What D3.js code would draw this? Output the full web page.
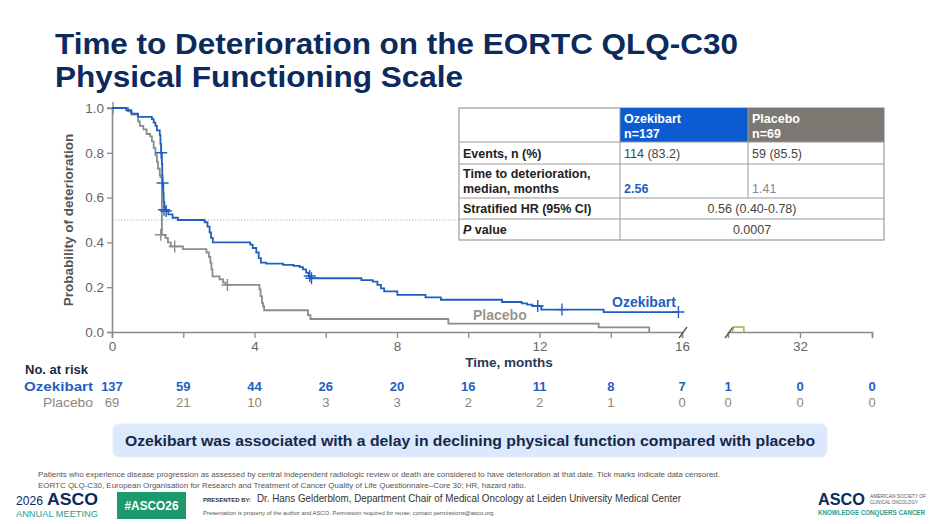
<!DOCTYPE html>
<html>
<head>
<meta charset="utf-8">
<script src="https://cdn.jsdelivr.net/npm/d3@7"></script>
<style>
  html, body { margin: 0; padding: 0; background: #fff; }
  svg { display: block; font-family: "Liberation Sans", Arial, sans-serif; }
</style>
</head>
<body>
<div id="chart"></div>
<script>
// Kaplan-Meier steps (time in months, probability after the step)
const ozeTimes = [0, 0.40, 0.54, 0.73, 1.12, 1.17, 1.22, 1.26, 1.34, 1.36, 1.38, 1.40, 1.41, 1.42, 1.44, 1.45, 1.47, 1.50, 1.58, 1.70, 1.85,
  2.60, 2.68, 2.74, 2.78, 2.83, 3.88, 3.95, 4.05, 4.12, 4.18, 4.33, 4.80, 5.10, 5.27, 5.36, 5.45, 5.52, 5.58,
  7.00, 7.32, 7.45, 7.55, 7.64, 8.01, 8.80, 9.23, 10.95, 11.50, 11.65, 11.80, 12.05, 13.80, 15.90];
const ozeProb = [1.0, 0.99, 0.975, 0.96, 0.95, 0.935, 0.92, 0.90, 0.88, 0.84, 0.80, 0.75, 0.70, 0.665, 0.62, 0.58, 0.555, 0.54, 0.525, 0.51, 0.50,
  0.49, 0.47, 0.445, 0.42, 0.40, 0.39, 0.375, 0.355, 0.33, 0.31, 0.305, 0.30, 0.295, 0.29, 0.28, 0.265, 0.25, 0.24,
  0.232, 0.225, 0.21, 0.195, 0.181, 0.166, 0.155, 0.144, 0.134, 0.128, 0.122, 0.116, 0.10, 0.089, 0.089];
const ozeCensorT = [1.38, 1.42, 1.46, 1.52, 5.55, 5.60, 11.95, 12.63, 15.90];
const ozeCensorP = [0.80, 0.665, 0.546, 0.54, 0.25, 0.24, 0.116, 0.10, 0.089];

const plaTimes = [0, 0.45, 0.55, 0.73, 0.78, 0.88, 0.97, 1.07, 1.12, 1.17, 1.22, 1.26, 1.29, 1.34, 1.36, 1.40,
  1.50, 1.57, 1.65, 1.99, 2.65, 2.72, 2.76, 2.79, 2.82, 3.02, 3.12, 3.19, 4.14, 4.17, 4.21, 4.24, 4.27,
  5.50, 5.57, 9.44, 13.66, 15.08];
const plaProb = [1.0, 0.985, 0.97, 0.94, 0.92, 0.905, 0.884, 0.873, 0.851, 0.821, 0.79, 0.76, 0.73, 0.70, 0.69, 0.434,
  0.42, 0.40, 0.382, 0.37, 0.355, 0.335, 0.31, 0.28, 0.248, 0.235, 0.22, 0.21, 0.19, 0.16, 0.13, 0.115, 0.097,
  0.075, 0.058, 0.037, 0.021, 0.0];
const plaCensorT = [0.03, 1.37, 1.76, 3.24];
const plaCensorP = [1.0, 0.434, 0.382, 0.21];

// little stray mark after the axis break
const tailTimes = [30.12, 30.16, 30.44, 30.44];
const tailProb = [0, 0.022, 0.022, -0.005];

const yTicks = [0, 0.2, 0.4, 0.6, 0.8, 1.0];
const xTicksMain = [0, 2, 4, 6, 8, 10, 12, 14, 16];
const xTicksTail = [32, 34];

const riskTimes = [0, 2, 4, 6, 8, 10, 12, 14, 16, 30, 32, 34];
const riskOze = [137, 59, 44, 26, 20, 16, 11, 8, 7, 1, 0, 0];
const riskPla = [69, 21, 10, 3, 3, 2, 2, 1, 0, 0, 0, 0];

const tableHead = ['Ozekibart', 'n=137', 'Placebo', 'n=69'];
const tableEvents = ['114 (83.2)', '59 (85.5)'];
const tableMedian = ['2.56', '1.41'];
const tableHR = '0.56 (0.40-0.78)';
const tableP = '0.0007';

const NAVY = '#0c2a5c', BLUE = '#1f5fbf', GREY = '#8c8c8c', AXIS = '#8a8a8a';

const W = 940, H = 524;
const svg = d3.select('#chart').append('svg').attr('width', W).attr('height', H);

// Title
const title = svg.append('text').attr('fill', NAVY).attr('font-size', 30).attr('font-weight', 'bold');
title.append('tspan').attr('x', 55).attr('y', 54).attr('textLength', 683).attr('lengthAdjust', 'spacingAndGlyphs')
  .text('Time to Deterioration on the EORTC QLQ-C30');
title.append('tspan').attr('x', 55).attr('y', 87).attr('textLength', 408).attr('lengthAdjust', 'spacingAndGlyphs')
  .text('Physical Functioning Scale');

// Scales (broken x axis)
const x = d3.scaleLinear().domain([0, 16]).range([112, 682]);
const x2 = d3.scaleLinear().domain([30, 34]).range([728, 872]);
const y = d3.scaleLinear().domain([0, 1]).range([332, 108]);

// median reference line
svg.append('line')
  .attr('x1', x(0)).attr('x2', x(16)).attr('y1', y(0.5)).attr('y2', y(0.5))
  .attr('stroke', '#aaa').attr('stroke-width', 0.8).attr('stroke-dasharray', '1.5,1.5');

// Axes
const gx = svg.append('g').attr('transform', `translate(0,${y(0)})`)
  .call(d3.axisBottom(x).tickValues(xTicksMain).tickFormat(d => d % 4 === 0 ? d : '').tickSizeOuter(0).tickSize(6).tickPadding(3));
const gx2 = svg.append('g').attr('transform', `translate(0,${y(0)})`)
  .call(d3.axisBottom(x2).tickValues(xTicksTail).tickFormat(d => d === 32 ? d : '').tickSizeOuter(0).tickSize(6).tickPadding(3));
const gy = svg.append('g').attr('transform', `translate(${x(0)},0)`)
  .call(d3.axisLeft(y).tickValues(yTicks).tickFormat(d3.format('.1f')).tickSizeOuter(0).tickSize(5).tickPadding(3));

[gx, gx2, gy].forEach(g => {
  g.select('.domain').attr('stroke', AXIS).attr('stroke-width', 1.6);
  g.selectAll('.tick line').attr('stroke', AXIS).attr('stroke-width', 1.3);
  g.selectAll('.tick text').attr('fill', '#666').attr('font-size', 13.5)
    .attr('font-family', '"Liberation Sans", Arial, sans-serif');
});

// axis break slashes
[x(16), x2(30)].forEach(bx => {
  svg.append('line')
    .attr('x1', bx - 3).attr('y1', y(0) + 6).attr('x2', bx + 5).attr('y2', y(0) - 5)
    .attr('stroke', '#555').attr('stroke-width', 1.3);
});

svg.append('text').attr('transform', `translate(73,${y(0.5)}) rotate(-90)`)
  .attr('text-anchor', 'middle').attr('fill', '#555').attr('font-size', 13.5).attr('font-weight', 'bold')
  .text('Probability of deterioration');
svg.append('text').attr('x', 509).attr('y', 367).attr('text-anchor', 'middle')
  .attr('fill', '#2a3a55').attr('font-size', 13.5).attr('font-weight', 'bold')
  .text('Time, months');

// KM curves
const step = d3.line().curve(d3.curveStepAfter);
function curve(times, probs, color) {
  svg.append('path')
    .attr('d', step(times.map((t, i) => [x(t), y(probs[i])])))
    .attr('fill', 'none').attr('stroke', color).attr('stroke-width', 1.8);
}
function censors(times, probs, color) {
  svg.append('g').selectAll('path').data(times).join('path')
    .attr('d', (t, i) => {
      const cx = x(t), cy = y(probs[i]);
      return `M${cx - 6},${cy}H${cx + 6}M${cx},${cy - 6}V${cy + 6}`;
    })
    .attr('stroke', color).attr('stroke-width', 1.4);
}
curve(plaTimes, plaProb, GREY);
censors(plaCensorT, plaCensorP, GREY);
curve(ozeTimes, ozeProb, BLUE);
censors(ozeCensorT, ozeCensorP, BLUE);

svg.append('path')
  .attr('d', d3.line()(tailTimes.map((t, i) => [x2(t), y(tailProb[i])])))
  .attr('fill', 'none').attr('stroke', '#8fb84a').attr('stroke-width', 1.5);

svg.append('text').attr('x', 612).attr('y', 307).attr('fill', BLUE)
  .attr('font-size', 14).attr('font-weight', 'bold').text('Ozekibart');
svg.append('text').attr('x', 473).attr('y', 320).attr('fill', '#9a968d')
  .attr('font-size', 14).attr('font-weight', 'bold').text('Placebo');

// Summary table
const tb = { x0: 459, c1: 620, c2: 748, x1: 884, rows: [108, 142, 164, 198, 219, 240] };
const tg = svg.append('g').attr('font-size', 12.5);
tg.append('rect').attr('x', tb.x0).attr('y', tb.rows[0]).attr('width', tb.x1 - tb.x0)
  .attr('height', tb.rows[5] - tb.rows[0]).attr('fill', '#fff').attr('stroke', '#9a9a9a').attr('stroke-width', 1.2);
tg.append('rect').attr('x', tb.c1).attr('y', tb.rows[0]).attr('width', tb.c2 - tb.c1)
  .attr('height', tb.rows[1] - tb.rows[0]).attr('fill', '#0d5bd0');
tg.append('rect').attr('x', tb.c2).attr('y', tb.rows[0]).attr('width', tb.x1 - tb.c2)
  .attr('height', tb.rows[1] - tb.rows[0]).attr('fill', '#7c7872');
tb.rows.slice(1, 5).forEach(r => {
  tg.append('line').attr('x1', tb.x0).attr('x2', tb.x1).attr('y1', r).attr('y2', r)
    .attr('stroke', '#9a9a9a').attr('stroke-width', 1);
});
tg.append('line').attr('x1', tb.c1).attr('x2', tb.c1).attr('y1', tb.rows[0]).attr('y2', tb.rows[5])
  .attr('stroke', '#9a9a9a');
tg.append('line').attr('x1', tb.c2).attr('x2', tb.c2).attr('y1', tb.rows[0]).attr('y2', tb.rows[3])
  .attr('stroke', '#9a9a9a');

function tcell(tx, ty, s, opts = {}) {
  return tg.append('text').attr('x', tx).attr('y', ty)
    .attr('fill', opts.fill || '#222').attr('font-weight', opts.bold ? 'bold' : 'normal')
    .attr('text-anchor', opts.anchor || 'start').text(s);
}
tcell(tb.c1 + 4, 123, tableHead[0], { fill: '#fff', bold: true });
tcell(tb.c1 + 4, 138, tableHead[1], { fill: '#fff', bold: true });
tcell(tb.c2 + 4, 123, tableHead[2], { fill: '#fff', bold: true });
tcell(tb.c2 + 4, 138, tableHead[3], { fill: '#fff', bold: true });
tcell(tb.x0 + 4, 158, 'Events, n (%)', { bold: true });
tcell(tb.c1 + 4, 158, tableEvents[0], { fill: '#444' });
tcell(tb.c2 + 4, 158, tableEvents[1], { fill: '#444' });
tcell(tb.x0 + 4, 178, 'Time to deterioration,', { bold: true });
tcell(tb.x0 + 4, 193, 'median, months', { bold: true });
tcell(tb.c1 + 4, 193, tableMedian[0], { fill: BLUE, bold: true });
tcell(tb.c2 + 4, 193, tableMedian[1], { fill: '#888' });
tcell(tb.x0 + 4, 213, 'Stratified HR (95% CI)', { bold: true });
tcell((tb.c1 + tb.x1) / 2, 213, tableHR, { fill: '#444', anchor: 'middle' });
const pl = tcell(tb.x0 + 4, 234, '', { bold: true });
pl.append('tspan').attr('font-style', 'italic').text('P');
pl.append('tspan').text(' value');
tcell((tb.c1 + tb.x1) / 2, 234, tableP, { fill: '#444', anchor: 'middle' });

// Number at risk (narrow look via textLength)
const rk = svg.append('g').attr('font-size', 13);
rk.append('text').attr('x', 25).attr('y', 374).attr('fill', '#1c2a44').attr('font-weight', 'bold')
  .attr('textLength', 63).attr('lengthAdjust', 'spacingAndGlyphs').text('No. at risk');
rk.append('text').attr('x', 24).attr('y', 391).attr('fill', BLUE).attr('font-weight', 'bold')
  .attr('textLength', 69).attr('lengthAdjust', 'spacingAndGlyphs').text('Ozekibart');
rk.append('text').attr('x', 43).attr('y', 407).attr('fill', '#8a877f')
  .attr('textLength', 50).attr('lengthAdjust', 'spacingAndGlyphs').text('Placebo');
const rx = t => t > 20 ? x2(t) : x(t);
rk.selectAll('text.ro').data(riskOze).join('text').attr('class', 'ro')
  .attr('x', (d, i) => rx(riskTimes[i])).attr('y', 391).attr('text-anchor', 'middle')
  .attr('fill', BLUE).attr('font-weight', 'bold').text(d => d);
rk.selectAll('text.rp').data(riskPla).join('text').attr('class', 'rp')
  .attr('x', (d, i) => rx(riskTimes[i])).attr('y', 407).attr('text-anchor', 'middle')
  .attr('fill', '#8a877f').text(d => d);

// Key message box
svg.append('rect').attr('x', 113).attr('y', 424).attr('width', 714).attr('height', 33).attr('rx', 6)
  .attr('fill', '#dce8fb').attr('stroke', '#e6eefc');
svg.append('text').attr('x', 470).attr('y', 446).attr('text-anchor', 'middle')
  .attr('fill', '#13294b').attr('font-size', 15).attr('font-weight', 'bold')
  .attr('textLength', 690).attr('lengthAdjust', 'spacingAndGlyphs')
  .text('Ozekibart was associated with a delay in declining physical function compared with placebo');

// Footnotes
const fn = svg.append('g').attr('font-size', 7.5).attr('fill', '#555');
fn.append('text').attr('x', 38).attr('y', 477).attr('textLength', 682).attr('lengthAdjust', 'spacingAndGlyphs')
  .text('Patients who experience disease progression as assessed by central independent radiologic review or death are considered to have deterioration at that date. Tick marks indicate data censored.');
fn.append('text').attr('x', 38).attr('y', 488).attr('textLength', 488).attr('lengthAdjust', 'spacingAndGlyphs')
  .text('EORTC QLQ-C30, European Organisation for Research and Treatment of Cancer Quality of Life Questionnaire\u2013Core 30; HR, hazard ratio.');

// Footer logos / presenter
svg.append('text').attr('x', 16).attr('y', 505).attr('fill', NAVY).attr('font-size', 13)
  .attr('textLength', 27).attr('lengthAdjust', 'spacingAndGlyphs').text('2026');
svg.append('text').attr('x', 47).attr('y', 505).attr('fill', NAVY).attr('font-size', 16).attr('font-weight', 'bold')
  .attr('textLength', 51).attr('lengthAdjust', 'spacingAndGlyphs').text('ASCO');
svg.append('text').attr('x', 16).attr('y', 517).attr('fill', '#2a9d8f').attr('font-size', 8.5)
  .attr('textLength', 82).attr('lengthAdjust', 'spacingAndGlyphs').text('ANNUAL MEETING');
svg.append('rect').attr('x', 117).attr('y', 492).attr('width', 69).attr('height', 27).attr('fill', '#1d9a6c');
svg.append('text').attr('x', 151.5).attr('y', 510).attr('text-anchor', 'middle').attr('fill', '#fff')
  .attr('font-size', 13).attr('font-weight', 'bold')
  .attr('textLength', 54).attr('lengthAdjust', 'spacingAndGlyphs').text('#ASCO26');
svg.append('text').attr('x', 203).attr('y', 502).attr('fill', '#333').attr('font-size', 5.5).attr('font-weight', 'bold')
  .attr('textLength', 48).attr('lengthAdjust', 'spacingAndGlyphs').text('PRESENTED BY:');
svg.append('text').attr('x', 257).attr('y', 502).attr('fill', '#333').attr('font-size', 11)
  .attr('textLength', 424).attr('lengthAdjust', 'spacingAndGlyphs')
  .text('Dr. Hans Gelderblom, Department Chair of Medical Oncology at Leiden University Medical Center');
svg.append('text').attr('x', 203).attr('y', 515).attr('fill', '#555').attr('font-size', 5.5)
  .attr('textLength', 292).attr('lengthAdjust', 'spacingAndGlyphs')
  .text('Presentation is property of the author and ASCO. Permission required for reuse; contact permissions@asco.org.');

svg.append('text').attr('x', 818).attr('y', 505).attr('fill', NAVY).attr('font-size', 16).attr('font-weight', 'bold')
  .attr('textLength', 47).attr('lengthAdjust', 'spacingAndGlyphs').text('ASCO');
svg.append('text').attr('x', 870).attr('y', 498).attr('fill', '#555').attr('font-size', 4.5)
  .attr('textLength', 56).attr('lengthAdjust', 'spacingAndGlyphs').text('AMERICAN SOCIETY OF');
svg.append('text').attr('x', 870).attr('y', 504).attr('fill', '#555').attr('font-size', 4.5)
  .attr('textLength', 48).attr('lengthAdjust', 'spacingAndGlyphs').text('CLINICAL ONCOLOGY');
svg.append('text').attr('x', 818).attr('y', 515).attr('fill', '#2a9d8f').attr('font-size', 6.5).attr('font-weight', 'bold')
  .attr('textLength', 107).attr('lengthAdjust', 'spacingAndGlyphs').text('KNOWLEDGE CONQUERS CANCER');
</script>
</body>
</html>
